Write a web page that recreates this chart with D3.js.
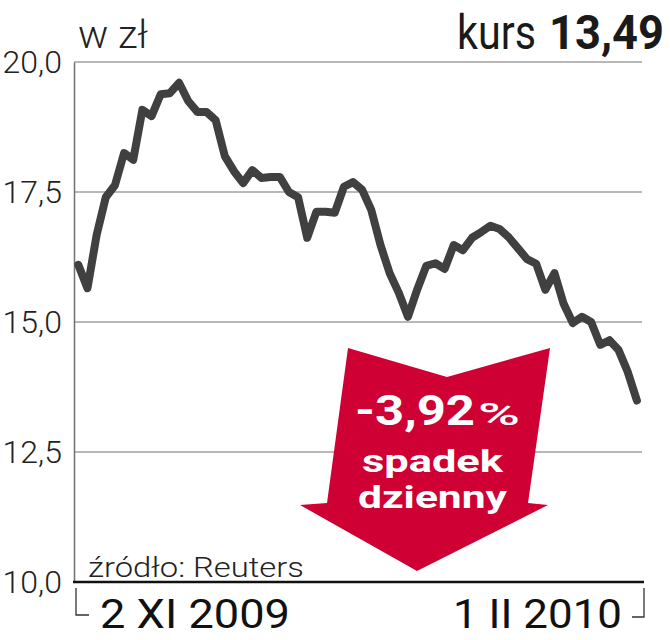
<!DOCTYPE html>
<html>
<head>
<meta charset="utf-8">
<script src="https://cdn.jsdelivr.net/npm/d3@7"></script>
<style>
  html, body { margin: 0; padding: 0; background: #fff; }
  svg { display: block; }
</style>
</head>
<body>
<svg id="chart" width="670" height="640"></svg>
<script>
// ---- data ----
const yTicks = [10, 12.5, 15, 17.5, 20];
const dateLabels = ["2 XI 2009", "1 II 2010"];
const prices = [
  16.10, 15.65, 16.67, 17.40, 17.63, 18.25, 18.12, 19.08, 18.96, 19.38,
  19.40, 19.60, 19.25, 19.04, 19.04, 18.88, 18.19, 17.90, 17.67, 17.92,
  17.77, 17.79, 17.79, 17.50, 17.40, 16.62, 17.12, 17.12, 17.10, 17.60,
  17.69, 17.54, 17.15, 16.48, 15.94, 15.56, 15.10, 15.62, 16.08, 16.13,
  16.02, 16.48, 16.38, 16.62, 16.73, 16.85, 16.79, 16.63, 16.42, 16.21,
  16.12, 15.62, 15.94, 15.35, 14.98, 15.10, 15.00, 14.56, 14.65, 14.46,
  14.04, 13.49
];
const unitLabel = "w zł";
const kursLabel = "kurs";
const kursValue = "13,49";
const changeValue = "-3,92";
const changeLines = ["spadek", "dzienny"];
const sourceLabel = "źródło: Reuters";

// ---- layout ----
const svg = d3.select("#chart");
const plotLeft = 74, plotRight = 642, axisRight = 644;
const x = d3.scaleLinear().domain([0, prices.length - 1]).range([78.3, 636.9]);
const y = d3.scaleLinear().domain([10, 20]).range([582, 62]);
const lightFont = "Roboto, 'Liberation Sans', sans-serif";

// gridlines
svg.append("g").selectAll("line")
  .data(yTicks.filter(d => d !== 10))
  .join("line")
  .attr("x1", plotLeft).attr("x2", plotRight)
  .attr("y1", d => y(d)).attr("y2", d => y(d))
  .attr("stroke", "#a0a0a0").attr("stroke-width", 1.5);

// y axis
const yAxis = svg.append("g")
  .attr("transform", `translate(${plotLeft},0)`)
  .call(d3.axisLeft(y).tickValues(yTicks)
    .tickFormat(d => d.toFixed(1).replace(".", ","))
    .tickSize(0).tickPadding(12));
yAxis.select(".domain").attr("stroke", "#707070").attr("stroke-width", 1.5);
yAxis.selectAll("text")
  .attr("font-family", lightFont).attr("font-weight", 300)
  .attr("font-size", 32).attr("fill", "#222");

// bottom axis line
svg.append("line")
  .attr("x1", plotLeft - 1).attr("x2", axisRight)
  .attr("y1", y(10)).attr("y2", y(10))
  .attr("stroke", "#111").attr("stroke-width", 2.5);

// brackets
svg.append("path")
  .attr("d", `M${plotLeft + 2},588 V615 H89`)
  .attr("fill", "none").attr("stroke", "#333").attr("stroke-width", 1.3);
svg.append("path")
  .attr("d", `M${axisRight},588 V617 H632`)
  .attr("fill", "none").attr("stroke", "#333").attr("stroke-width", 1.3);

// price line
svg.append("path")
  .datum(prices)
  .attr("d", d3.line().x((d, i) => x(i)).y(d => y(d)))
  .attr("fill", "none").attr("stroke", "#404040")
  .attr("stroke-width", 8).attr("stroke-linejoin", "round").attr("stroke-linecap", "round");

// arrow
svg.append("polygon")
  .attr("points", "348,348 447,377 550,348 528,503 548,505 417,571 300,505 327,503")
  .attr("fill", "#cf0033");

// arrow text
svg.append("text").text(changeValue)
  .attr("x", 355).attr("y", 425)
  .attr("font-family", lightFont).attr("font-weight", 700).attr("font-size", 43)
  .attr("fill", "#fff").attr("textLength", 120).attr("lengthAdjust", "spacingAndGlyphs");
svg.append("text").text("%")
  .attr("x", 478).attr("y", 425)
  .attr("font-family", lightFont).attr("font-weight", 500).attr("font-size", 31)
  .attr("fill", "#fff").attr("textLength", 42).attr("lengthAdjust", "spacingAndGlyphs");
svg.append("text").text(changeLines[0])
  .attr("x", 362).attr("y", 472)
  .attr("font-family", lightFont).attr("font-weight", 700).attr("font-size", 31)
  .attr("fill", "#fff").attr("textLength", 141).attr("lengthAdjust", "spacingAndGlyphs");
svg.append("text").text(changeLines[1])
  .attr("x", 358).attr("y", 508)
  .attr("font-family", lightFont).attr("font-weight", 700).attr("font-size", 31)
  .attr("fill", "#fff").attr("textLength", 149).attr("lengthAdjust", "spacingAndGlyphs");

// header texts
svg.append("text").text(unitLabel)
  .attr("x", 78).attr("y", 48)
  .attr("font-family", lightFont).attr("font-weight", 300).attr("font-size", 38)
  .attr("fill", "#222").attr("textLength", 70).attr("lengthAdjust", "spacingAndGlyphs");
svg.append("text").text(kursLabel)
  .attr("x", 457).attr("y", 49)
  .attr("font-family", lightFont).attr("font-weight", 400).attr("font-size", 48)
  .attr("fill", "#1a1a1a").attr("textLength", 79).attr("lengthAdjust", "spacingAndGlyphs");
svg.append("text").text(kursValue)
  .attr("x", 549).attr("y", 49)
  .attr("font-family", lightFont).attr("font-weight", 700).attr("font-size", 48)
  .attr("fill", "#1a1a1a").attr("textLength", 115).attr("lengthAdjust", "spacingAndGlyphs");

// source
svg.append("text").text(sourceLabel)
  .attr("x", 88).attr("y", 577)
  .attr("font-family", lightFont).attr("font-weight", 300).attr("font-size", 28)
  .attr("fill", "#222").attr("textLength", 216).attr("lengthAdjust", "spacingAndGlyphs");

// date labels
const datePos = [{x: 100, len: 190}, {x: 453, len: 169}];
svg.append("g").selectAll("text")
  .data(dateLabels)
  .join("text")
  .text(d => d)
  .attr("x", (d, i) => datePos[i].x).attr("y", 628)
  .attr("font-family", lightFont).attr("font-weight", 400).attr("font-size", 41)
  .attr("fill", "#111")
  .attr("textLength", (d, i) => datePos[i].len).attr("lengthAdjust", "spacingAndGlyphs");
</script>
</body>
</html>
